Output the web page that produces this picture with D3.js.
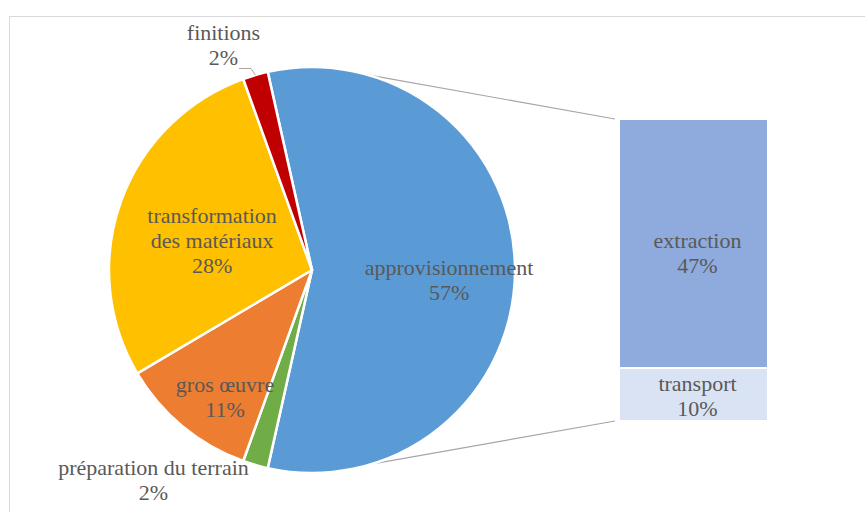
<!DOCTYPE html>
<html lang="fr">
  <head>
    <meta charset="UTF-8" />
    <title>Répartition - barre de secteurs</title>
    <script src="https://d3js.org/d3.v7.min.js"></script>
    <style>
      body {
        margin: 0;
        background: #ffffff;
      }
    </style>
  </head>
  <body>
    <div id="chart"></div>
    <script>
      // pie categories (approvisionnement is split in the bar)
      const pieLabels = [
        "approvisionnement",
        "préparation du terrain",
        "gros œuvre",
        "transformation des matériaux",
        "finitions",
      ];
      const pieValues = [57, 2, 11, 28, 2];
      const pieColors = ["#5B9BD5", "#70AD47", "#ED7D31", "#FFC000", "#C00000"];

      // secondary bar (détail de l'approvisionnement)
      const barLabels = ["extraction", "transport"];
      const barValues = [47, 10];
      const barColors = ["#8FAADC", "#DAE3F3"];

      const width = 865,
        height = 512;
      const cx = 312,
        cy = 270,
        radius = 203;
      const fontStack = "'Liberation Serif', 'DejaVu Serif', 'Times New Roman', serif";

      const svg = d3
        .select("#chart")
        .append("svg")
        .attr("width", width)
        .attr("height", height);

      // chart frame (cut off on the right and bottom)
      svg
        .append("rect")
        .attr("x", 9.5)
        .attr("y", 16.5)
        .attr("width", 900)
        .attr("height", 600)
        .attr("fill", "none")
        .attr("stroke", "#d9d9d9");

      const total = d3.sum(pieValues);
      // first slice centred on the right side
      const start = Math.PI / 2 - (pieValues[0] / total) * Math.PI;

      const pie = d3
        .pie()
        .sort(null)
        .startAngle(start)
        .endAngle(start + 2 * Math.PI);

      const arcs = pie(pieValues);
      const arc = d3.arc().innerRadius(0).outerRadius(radius);
      const labelArc = d3.arc().innerRadius(radius * 0.68).outerRadius(radius * 0.68);

      // bar scales
      const barX = d3.scaleBand().domain(["approvisionnement"]).range([619, 768]).padding(0);
      const barY = d3.scaleLinear().domain([0, d3.sum(barValues)]).range([119, 421]);
      const stacked = [];
      let acc = 0;
      barValues.forEach((v, i) => {
        stacked.push({ label: barLabels[i], value: v, y0: acc, y1: acc + v, color: barColors[i] });
        acc += v;
      });

      // connector lines between pie and bar
      const pt = (a, r) => [cx + r * Math.sin(a), cy - r * Math.cos(a)];
      const aTop = (16 * Math.PI) / 180,
        aBot = (163 * Math.PI) / 180;
      const line = d3.line();
      svg
        .append("path")
        .attr("d", line([pt(aTop, radius), [barX("approvisionnement") - 4, barY(0)]]))
        .attr("stroke", "#a6a6a6")
        .attr("stroke-width", 1.2)
        .attr("fill", "none");
      svg
        .append("path")
        .attr("d", line([pt(aBot, radius), [barX("approvisionnement") - 4, barY(d3.sum(barValues))]]))
        .attr("stroke", "#a6a6a6")
        .attr("stroke-width", 1.2)
        .attr("fill", "none");

      // pie slices
      const g = svg.append("g").attr("transform", `translate(${cx},${cy})`);
      g.selectAll("path")
        .data(arcs)
        .enter()
        .append("path")
        .attr("d", arc)
        .attr("fill", (d, i) => pieColors[i])
        .attr("stroke", "#ffffff")
        .attr("stroke-width", 2.5)
        .attr("stroke-linejoin", "round");

      // bar segments
      svg
        .selectAll(".seg")
        .data(stacked)
        .enter()
        .append("rect")
        .attr("class", "seg")
        .attr("x", barX("approvisionnement"))
        .attr("width", barX.bandwidth())
        .attr("y", (d) => barY(d.y0))
        .attr("height", (d) => barY(d.y1) - barY(d.y0))
        .attr("fill", (d) => d.color)
        .attr("stroke", "#ffffff")
        .attr("stroke-width", 2);

      // label layout: lines per label and nudges from the centroid
      const labelLines = {
        approvisionnement: ["approvisionnement"],
        "préparation du terrain": ["préparation du terrain"],
        "gros œuvre": ["gros œuvre"],
        "transformation des matériaux": ["transformation", "des matériaux"],
        finitions: ["finitions"],
      };
      const nudge = {
        approvisionnement: [-1, 10],
        "préparation du terrain": [-120, 78],
        "gros œuvre": [1, 21],
        "transformation des matériaux": [30, 18],
        finitions: [-50, -92],
      };
      const lineH = 25;

      function drawLabel(x, y, lines) {
        const t = svg
          .append("text")
          .attr("text-anchor", "middle")
          .attr("font-family", fontStack)
          .attr("font-size", 22)
          .attr("fill", "#595959");
        lines.forEach((l, i) => {
          t.append("tspan")
            .attr("x", x)
            .attr("y", y + i * lineH)
            .text(l);
        });
      }

      arcs.forEach((d, i) => {
        const name = pieLabels[i];
        const c = labelArc.centroid(d);
        const lines = labelLines[name].concat([d.value + "%"]);
        const n = lines.length;
        const x = cx + c[0] + nudge[name][0];
        const y = cy + c[1] + nudge[name][1] - ((n - 1) * lineH) / 2 + 7;
        drawLabel(x, y, lines);
      });

      // leader line for finitions
      const fin = arcs[4];
      const finEdge = pt((fin.startAngle + fin.endAngle) / 2, radius);
      svg
        .append("path")
        .attr("d", line([[239, 68.5], [251, 68.5], finEdge]))
        .attr("stroke", "#a6a6a6")
        .attr("fill", "none");

      // bar labels
      stacked.forEach((d, i) => {
        const mid = (barY(d.y0) + barY(d.y1)) / 2;
        const x = barX("approvisionnement") + barX.bandwidth() / 2 + 4;
        const y = i === 0 ? mid + 4.5 : mid - 3.5;
        drawLabel(x, y, [d.label, d.value + "%"]);
      });
    </script>
  </body>
</html>
